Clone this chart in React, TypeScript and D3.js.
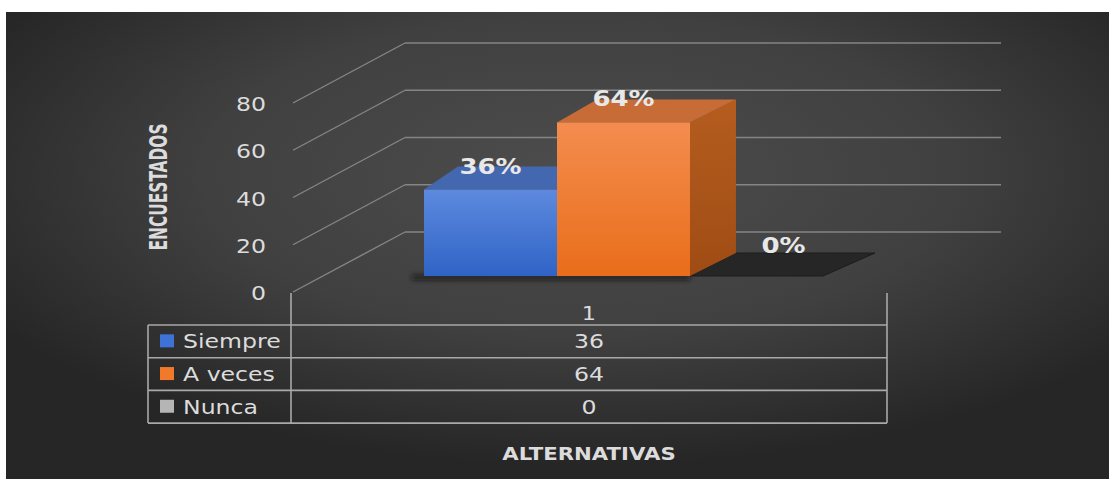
import React from 'react';
import * as d3 from 'd3';

// ---- data ----
const categories = ['1'];
const seriesNames = ['Siempre', 'A veces', 'Nunca'];
const seriesValues = [36, 64, 0];
const seriesLabels = ['36%', '64%', '0%'];
const yTicks = [0, 20, 40, 60, 80];
const yTitle = 'ENCUESTADOS';
const xTitle = 'ALTERNATIVAS';

// ---- style ----
const W = 1109;
const H = 479;
const SX = 1.18;
const FONT = "'DejaVu Sans', Verdana, sans-serif";
const frontColors = [
  ['#5d8ade', '#2f63c6'],
  ['#f38d4f', '#e96d1a'],
  ['#2b2b2b', '#2b2b2b'],
];
const topColors = ['#4468b0', '#c76c36', '#262626'];
const sideColors = [['#3a5ea6', '#2c4f96'], ['#b55d1f', '#9f4c14'], ['#222', '#222']];
const keyColors = ['#3f72d6', '#f07a2a', '#b5b5b5'];
const gridColor = '#858585';
const tableColor = '#a9a9a9';
const textColor = '#dcdcdc';

function T(props: any) {
  const { x, y, children, anchor = 'middle', size = 18, weight = 'normal', fill = textColor, sx = SX } = props;
  return (
    <text
      transform={`translate(${x},${y}) scale(${sx},1)`}
      textAnchor={anchor}
      fontSize={size}
      fontWeight={weight}
      fill={fill}
      fontFamily={FONT}
    >
      {children}
    </text>
  );
}

export default function App() {
  // back wall
  const wallX0 = 405;
  const wallX1 = 1001;
  const yBack = d3.scaleLinear().domain([0, 80]).range([232, 43]);
  const sideDx = -112;
  const sideDy = 60;

  // bars (front plane)
  const barBase = 276;
  const hScale = d3.scaleLinear().domain([0, 80]).range([0, 192]);
  const xBand = d3.scaleBand<string>().domain(seriesNames).range([424, 424 + 3 * 133]).padding(0);
  const depthDx = (x: number) => 34 + (x - 424) * 0.045;
  const depthDy = -23;

  // table
  const tLeft = 148;
  const tDiv = 291;
  const tRight = 887;
  const tTop = 325;
  const rowH = 32.7;
  const tableCenter = (tDiv + tRight) / 2;

  const order = seriesNames.map((_, i) => i).sort((a, b) => (seriesValues[a] === 0 ? -1 : 0) - (seriesValues[b] === 0 ? -1 : 0));

  return (
    <div style={{ position: 'absolute', left: 0, top: 0 }}>
      <svg width={W} height={H} style={{ display: 'block' }}>
        <defs>
          <radialGradient id="bg" cx="0.52" cy="0.35" r="0.62">
            <stop offset="0" stopColor="#4d4d4d" />
            <stop offset="0.55" stopColor="#404040" />
            <stop offset="1" stopColor="#262626" />
          </radialGradient>
          {frontColors.map((c, i) => (
            <linearGradient key={i} id={`front${i}`} x1="0" y1="0" x2="0" y2="1">
              <stop offset="0" stopColor={c[0]} />
              <stop offset="1" stopColor={c[1]} />
            </linearGradient>
          ))}
          {sideColors.map((c, i) => (
            <linearGradient key={i} id={`side${i}`} x1="0" y1="0" x2="0" y2="1">
              <stop offset="0" stopColor={c[0]} />
              <stop offset="1" stopColor={c[1]} />
            </linearGradient>
          ))}
          <filter id="blur" x="-10%" y="-200%" width="120%" height="500%">
            <feGaussianBlur stdDeviation="2.5" />
          </filter>
        </defs>
        <rect x={0} y={0} width={W} height={H} fill="#ffffff" />
        <rect x={6} y={12} width={W - 6} height={H - 12} fill="url(#bg)" />

        {/* gridlines: back wall + side wall */}
        {yTicks.map((t) => {
          const yb = yBack(t);
          return (
            <g key={t}>
              <line x1={wallX0} x2={wallX1} y1={yb} y2={yb} stroke={gridColor} strokeWidth={1.6} />
              <line x1={wallX0} y1={yb} x2={wallX0 + sideDx} y2={yb + sideDy} stroke={gridColor} strokeWidth={1.4} />
            </g>
          );
        })}
        {/* tick labels */}
        {yTicks.map((t) => (
          <T key={t} x={266} y={yBack(t) + sideDy + 8} anchor="end" size={20}>
            {t}
          </T>
        ))}

        {/* y title */}
        <text
          transform={`translate(167,187) rotate(-90)`}
          textAnchor="middle"
          fontSize={25}
          fontWeight="bold"
          fill={textColor}
          fontFamily="'Liberation Sans Narrow', 'DejaVu Sans Condensed', sans-serif"
          textLength={127}
          lengthAdjust="spacingAndGlyphs"
        >
          {yTitle}
        </text>

        {/* shadow under bars */}
        <rect x={412} y={barBase - 1} width={(xBand(seriesNames[1]) as number) + xBand.bandwidth() - 412} height={5} fill="#111" opacity={0.7} filter="url(#blur)" />

        {/* bars */}
        {order.map((i) => {
          const name = seriesNames[i];
          const x0 = xBand(name) as number;
          const x1 = x0 + xBand.bandwidth();
          const v = seriesValues[i];
          const yt = barBase - hScale(v);
          const d0 = depthDx(x0);
          const d1 = depthDx(x1);
          const top = `M${x0},${yt}L${x1},${yt}L${x1 + d1},${yt + depthDy}L${x0 + d0},${yt + depthDy}Z`;
          const side = `M${x1},${yt}L${x1 + d1},${yt + depthDy}L${x1 + d1},${barBase + depthDy}L${x1},${barBase}Z`;
          if (v === 0) {
            return (
              <g key={name}>
                <path d={top} fill={topColors[i]} stroke="#1c1c1c" strokeWidth={1} />
              </g>
            );
          }
          return (
            <g key={name}>
              <path d={side} fill={`url(#side${i})`} />
              <path d={top} fill={topColors[i]} />
              <rect x={x0} y={yt} width={x1 - x0} height={barBase - yt} fill={`url(#front${i})`} />
            </g>
          );
        })}

        {/* data labels */}
        {seriesNames.map((name, i) => {
          const x0 = xBand(name) as number;
          const v = seriesValues[i];
          const cx = x0 + xBand.bandwidth() / 2 + (v === 0 ? 27 : 0);
          const yt = barBase - hScale(v);
          const y = v === 0 ? barBase + depthDy : yt - 16;
          return (
            <T key={name} x={cx} y={y} size={22} weight="bold" fill="#e8e8e8">
              {seriesLabels[i]}
            </T>
          );
        })}

        {/* data table */}
        <g stroke={tableColor} strokeWidth={1.6} fill="none">
          <line x1={tDiv} x2={tDiv} y1={293} y2={tTop + rowH * 3} />
          <line x1={tRight} x2={tRight} y1={293} y2={tTop + rowH * 3} />
          <line x1={tLeft} x2={tLeft} y1={tTop} y2={tTop + rowH * 3} />
          {[0, 1, 2, 3].map((r) => (
            <line key={r} x1={tLeft} x2={tRight} y1={tTop + rowH * r} y2={tTop + rowH * r} />
          ))}
        </g>
        {categories.map((c) => (
          <T key={c} x={tableCenter} y={tTop - 5} size={19}>
            {c}
          </T>
        ))}
        {seriesNames.map((name, i) => {
          const yMid = tTop + rowH * i + rowH / 2;
          return (
            <g key={name}>
              <rect x={160} y={yMid - 7} width={14} height={13} fill={keyColors[i]} />
              <T x={183} y={yMid + 7} anchor="start" size={20}>
                {name}
              </T>
              <T x={tableCenter} y={yMid + 7} size={20}>
                {seriesValues[i]}
              </T>
            </g>
          );
        })}

        {/* x title */}
        <T x={tableCenter} y={460} size={18} weight="bold">
          {xTitle}
        </T>
      </svg>
    </div>
  );
}
